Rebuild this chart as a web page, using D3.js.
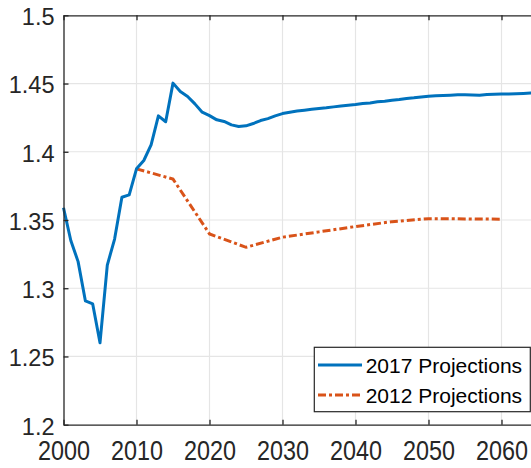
<!DOCTYPE html>
<html>
<head>
<meta charset="utf-8">
<script src="https://cdn.jsdelivr.net/npm/d3@7"></script>
<style>
  body { margin: 0; background: #fff; }
  svg { display: block; font-family: "Liberation Sans", Arial, sans-serif; }
</style>
</head>
<body>
<svg id="chart"></svg>
<script>
// 2017 projections, yearly
const years2017 = d3.range(2000, 2066);
const values2017 = [
  1.359, 1.335, 1.3195, 1.2907, 1.2885, 1.260, 1.317, 1.336, 1.3667, 1.3684,
  1.3875, 1.3936, 1.405, 1.4263, 1.422, 1.4503, 1.4441, 1.4405, 1.4351, 1.429,
  1.4265, 1.4234, 1.4222, 1.4197, 1.4185, 1.419, 1.4207, 1.4229, 1.4243, 1.4263,
  1.428, 1.429, 1.4298, 1.4305, 1.4312, 1.4317, 1.4322, 1.4329, 1.4336, 1.4341,
  1.4346, 1.4353, 1.4358, 1.4366, 1.4371, 1.4378, 1.4383, 1.439, 1.4395, 1.4402,
  1.4407, 1.441, 1.4412, 1.4415, 1.4417, 1.4417, 1.4416, 1.4415, 1.4419, 1.4422,
  1.4423, 1.4424, 1.4425, 1.4427, 1.443, 1.4431
];

// 2012 projections, every 5 years
const years2012 = [2010, 2015, 2020, 2025, 2030, 2035, 2040, 2045, 2050, 2055, 2060];
const values2012 = [1.3875, 1.380, 1.3398, 1.330, 1.3374, 1.3413, 1.3452, 1.3488, 1.351, 1.3508, 1.3506];

const xTicks = [2000, 2010, 2020, 2030, 2040, 2050, 2060];
const yTicks = [1.2, 1.25, 1.3, 1.35, 1.4, 1.45, 1.5];
const seriesNames = ["2017 Projections", "2012 Projections"];

const width = 531, height = 468;
const plotLeft = 63.5, plotTop = 15.3, plotBottom = 424.7;

const svg = d3.select("#chart").attr("width", width).attr("height", height);

const x = d3.scaleLinear().domain([2000, 2070]).range([plotLeft, plotLeft + 7.3 * 70]);
const y = d3.scaleLinear().domain([1.2, 1.5]).range([plotBottom, plotTop]);

const axisColor = "#262626";

// grid
svg.append("g").selectAll("line").data(xTicks.slice(1)).enter().append("line")
  .attr("x1", d => x(d)).attr("x2", d => x(d))
  .attr("y1", plotTop).attr("y2", plotBottom)
  .attr("stroke", "#e5e5e5").attr("stroke-width", 1.2);
svg.append("g").selectAll("line").data(yTicks.slice(1, -1)).enter().append("line")
  .attr("x1", plotLeft).attr("x2", width)
  .attr("y1", d => y(d)).attr("y2", d => y(d))
  .attr("stroke", "#e5e5e5").attr("stroke-width", 1.2);

// lines
const plot = svg.append("g");
const line = d3.line().x(d => x(d[0])).y(d => y(d[1]));

plot.append("path")
  .datum(years2012.map((yr, i) => [yr, values2012[i]]))
  .attr("d", line)
  .attr("fill", "none")
  .attr("stroke", "#D95319")
  .attr("stroke-width", 3)
  .attr("stroke-dasharray", "8,3,3,3");

plot.append("path")
  .datum(years2017.map((yr, i) => [yr, values2017[i]]))
  .attr("d", line)
  .attr("fill", "none")
  .attr("stroke", "#0072BD")
  .attr("stroke-width", 3)
  .attr("stroke-linejoin", "round");

// axes (MATLAB style, ticks inward)
const xAxisB = d3.axisBottom(x).tickValues(xTicks).tickSizeInner(-5).tickSizeOuter(0)
  .tickFormat(d3.format("d"));
const xAxisT = d3.axisTop(x).tickValues(xTicks).tickSizeInner(-5).tickSizeOuter(0)
  .tickFormat("");
const yAxisL = d3.axisLeft(y).tickValues(yTicks).tickSizeInner(-5).tickSizeOuter(0)
  .tickPadding(9).tickFormat(d => d3.format("")(d));

function styleAxis(g) {
  g.select(".domain").attr("stroke", axisColor).attr("stroke-width", 1.3);
  g.selectAll(".tick line").attr("stroke", axisColor).attr("stroke-width", 1.3);
  g.selectAll(".tick text").attr("fill", axisColor).attr("font-size", 23.5)
    .attr("font-family", "Liberation Sans, Arial, sans-serif");
}

svg.append("g").attr("transform", `translate(0,${plotBottom})`).call(xAxisB).call(styleAxis)
  .selectAll(".tick text")
  .attr("font-size", 23.4)
  .attr("y", 0).attr("dy", 0)
  .attr("transform", "translate(0,35.3) scale(1,1.15)");
svg.append("g").attr("transform", `translate(0,${plotTop})`).call(xAxisT).call(styleAxis);
svg.append("g").attr("transform", `translate(${plotLeft},0)`).call(yAxisL).call(styleAxis)
  .selectAll(".tick text").attr("dy", "0.4em");

// legend
const legend = svg.append("g");
legend.append("rect")
  .attr("x", 314.3).attr("y", 347.3)
  .attr("width", 216).attr("height", 64.4)
  .attr("fill", "#fff").attr("stroke", axisColor).attr("stroke-width", 1.2);

const legendStyles = [
  { color: "#0072BD", dash: null },
  { color: "#D95319", dash: "8,3,3,3" }
];
seriesNames.forEach((name, i) => {
  const ly = 365 + i * 30;
  legend.append("line")
    .attr("x1", 318).attr("x2", 362).attr("y1", ly).attr("y2", ly)
    .attr("stroke", legendStyles[i].color).attr("stroke-width", 3)
    .attr("stroke-dasharray", legendStyles[i].dash);
  legend.append("text")
    .attr("x", 365.7).attr("y", ly).attr("dy", "0.38em")
    .attr("font-size", 21).attr("fill", "#000")
    .text(name);
});
</script>
</body>
</html>
